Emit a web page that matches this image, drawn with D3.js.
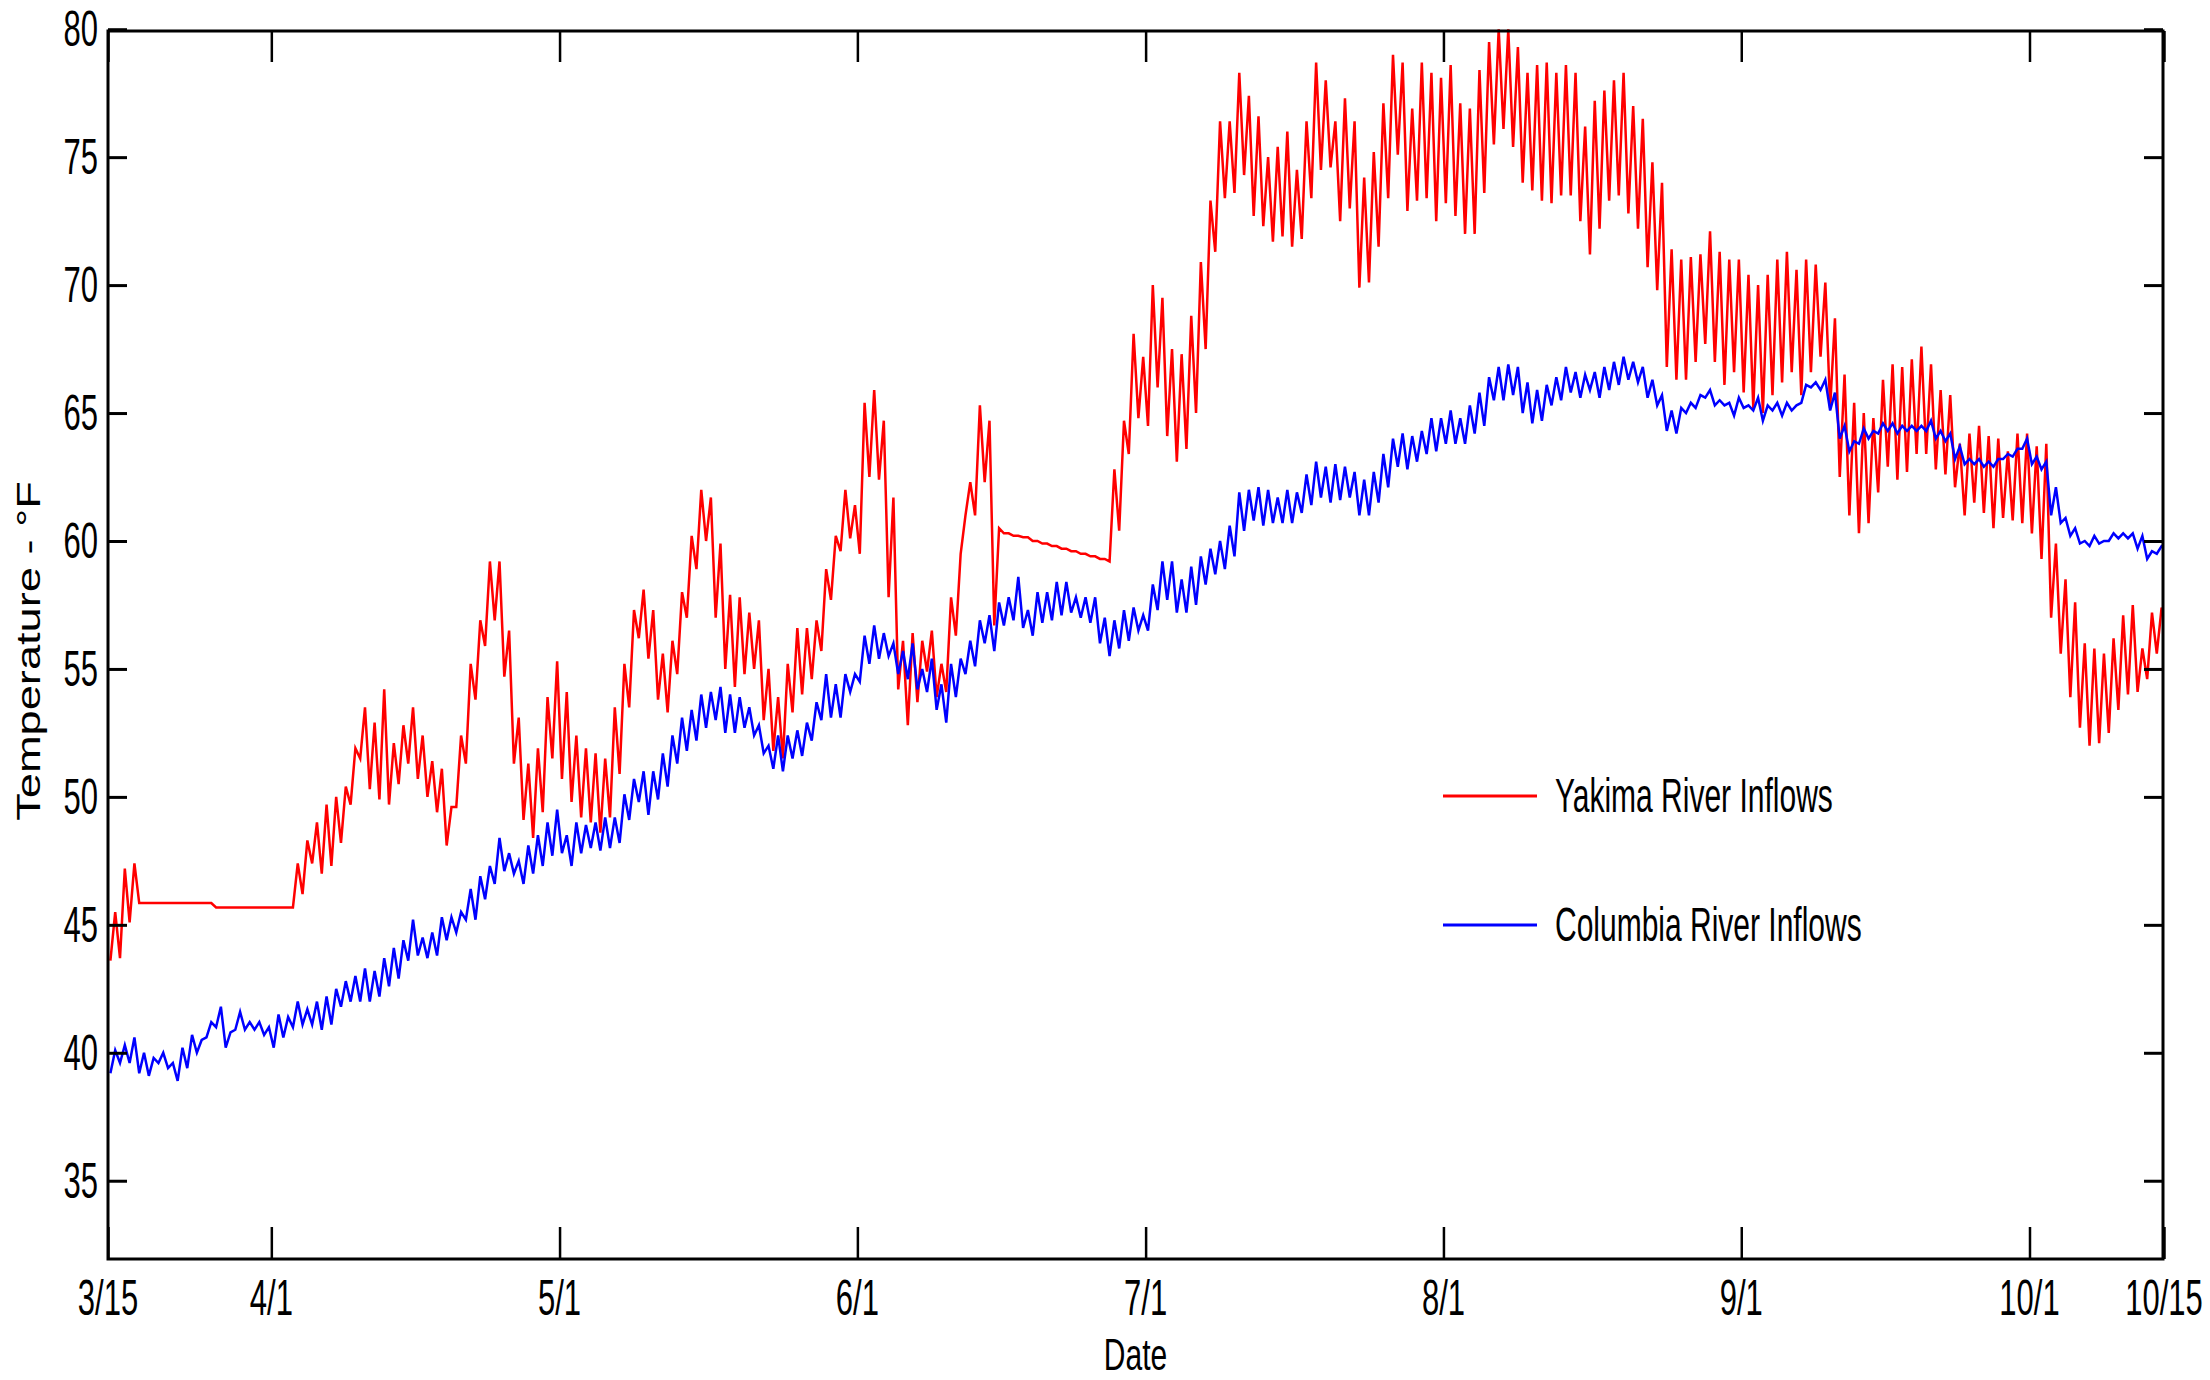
<!DOCTYPE html>
<html>
<head>
<meta charset="utf-8">
<script src="https://cdn.jsdelivr.net/npm/d3@7"></script>
<style>
  html, body { margin: 0; padding: 0; background: #fff; }
  svg { display: block; font-family: "Liberation Sans", Arial, sans-serif; }
</style>
</head>
<body>
<div id="chart-container"></div>
<script>
(function() {
  'use strict';

// daily low / high, one entry per day from 3/15 (day 0) to 10/15 (day 214)
const yakimaLow = [
  43.6, 43.7, 45.1, 45.85, 45.85, 45.85, 45.85, 45.85, 45.85, 45.85, 45.85,
  45.68, 45.68, 45.68, 45.68, 45.68, 45.68, 45.68, 45.68, 45.68,
  46.2, 47.4, 47.0, 47.3, 48.2, 49.7, 51.5, 50.3, 49.9, 49.7,
  50.5, 51.3, 50.7, 50.0, 49.4, 48.1, 49.6, 51.3, 53.8, 55.9,
  56.9, 54.7, 51.3, 49.1, 48.4, 49.4, 51.5, 50.7, 49.8, 49.2,
  49.0, 48.6, 49.2, 50.9, 53.5, 56.2, 55.4, 53.8, 53.3, 54.8,
  57.0, 58.9, 60.0, 57.0, 55.0, 54.3, 54.8, 55.0, 53.0, 51.8,
  51.5, 53.3, 54.0, 54.6, 55.7, 57.7, 59.6, 60.1, 59.5, 62.5,
  62.4, 57.8, 54.2, 52.8, 53.7, 54.9, 53.9, 54.1, 56.3, 61.0,
  61.0, 62.3, 56.7, 60.3, 60.2, 60.15, 60.0, 59.9, 59.8, 59.7,
  59.6, 59.5, 59.4, 59.3, 59.2, 60.4, 63.4, 64.8, 64.5, 66.0,
  64.1, 63.1, 63.6, 65.0, 67.5, 71.3, 73.4, 73.6, 74.3, 72.7,
  72.3, 71.7, 71.9, 71.5, 71.8, 73.4, 74.5, 74.6, 72.5, 73.0,
  69.9, 70.1, 71.5, 73.4, 75.1, 72.9, 73.3, 73.4, 72.5, 73.2,
  72.7, 72.0, 72.0, 73.6, 75.5, 76.1, 75.4, 74.0, 73.7, 73.3,
  73.2, 73.5, 73.5, 72.5, 71.2, 72.2, 73.3, 73.5, 72.8, 72.2,
  70.7, 69.8, 66.8, 66.3, 66.3, 67.0, 67.7, 67.0, 66.1, 66.6,
  65.8, 65.2, 65.0, 65.7, 66.2, 66.6, 65.7, 66.6, 67.2, 65.2,
  62.5, 61.0, 60.3, 60.7, 61.9, 62.9, 62.4, 62.7, 63.4, 63.4,
  62.8, 62.6, 62.1, 61.0, 61.5, 61.1, 60.5, 60.9, 60.8, 60.7,
  60.3, 59.3, 57.0, 55.6, 53.9, 52.7, 52.0, 52.1, 52.5, 53.4,
  54.0, 54.1, 54.6, 55.6, 56.8
];
const yakimaHigh = [
  45.5, 47.2, 47.4, 45.85, 45.85, 45.85, 45.85, 45.85, 45.85, 45.85, 45.85,
  45.68, 45.68, 45.68, 45.68, 45.68, 45.68, 45.68, 45.68, 47.4,
  48.3, 49.0, 49.7, 50.0, 50.4, 51.9, 53.5, 52.9, 54.2, 52.1,
  52.8, 53.5, 52.4, 51.4, 51.1, 49.6, 52.4, 55.2, 56.9, 59.2,
  59.2, 56.5, 53.1, 51.3, 51.9, 53.9, 55.3, 54.1, 52.4, 51.9,
  51.7, 51.5, 53.5, 55.2, 57.3, 58.1, 57.3, 55.6, 56.1, 58.0,
  60.2, 62.0, 61.7, 59.9, 57.9, 57.8, 57.2, 56.9, 55.0, 53.9,
  55.2, 56.6, 56.6, 56.9, 58.9, 60.2, 62.0, 61.4, 65.4, 65.9,
  64.7, 61.7, 56.1, 56.4, 56.1, 56.5, 55.2, 57.8, 59.5, 62.3,
  65.3, 64.7, 60.5, 60.3, 60.2, 60.15, 60.0, 59.9, 59.8, 59.7,
  59.6, 59.5, 59.4, 59.3, 62.8, 64.7, 68.1, 67.2, 70.0, 69.5,
  67.5, 67.3, 68.8, 70.9, 73.3, 76.4, 76.4, 78.3, 77.4, 76.6,
  75.0, 75.4, 76.0, 74.5, 76.4, 78.7, 78.0, 76.4, 77.3, 76.4,
  74.2, 75.2, 77.1, 79.0, 78.7, 76.9, 78.7, 78.3, 78.1, 78.6,
  77.1, 76.9, 78.4, 79.5, 80.0, 80.0, 79.3, 78.3, 78.6, 78.7,
  78.3, 78.6, 78.3, 76.2, 77.2, 77.6, 78.0, 78.3, 77.0, 76.5,
  74.8, 74.0, 71.4, 71.0, 71.1, 71.2, 72.1, 71.3, 71.0, 71.0,
  70.4, 70.0, 70.4, 71.0, 71.3, 70.6, 71.0, 70.8, 70.1, 68.7,
  66.5, 65.4, 65.0, 64.8, 66.3, 66.9, 66.8, 67.1, 67.6, 66.9,
  65.9, 65.7, 63.8, 64.2, 64.5, 64.1, 64.0, 63.5, 64.2, 64.2,
  63.7, 63.8, 59.9, 58.5, 57.6, 56.0, 55.8, 55.6, 56.2, 57.1,
  57.5, 55.8, 57.2, 57.4, 56.8
];
const columbiaLow = [
  39.2, 39.6, 39.6, 39.2, 39.1, 39.6, 39.4, 38.9, 39.4, 40.0,
  40.6, 41.0, 40.2, 40.9, 40.9, 40.9, 40.7, 40.2, 40.6, 41.0,
  41.1, 41.1, 40.9, 41.1, 41.8, 42.0, 42.0, 42.0, 42.2, 42.6,
  42.9, 43.6, 43.8, 43.7, 43.8, 44.4, 44.7, 45.2, 45.2, 46.0,
  46.6, 47.1, 47.0, 46.6, 47.0, 47.3, 47.7, 47.8, 47.3, 47.8,
  48.0, 47.9, 48.0, 48.2, 49.1, 49.8, 49.3, 49.9, 50.4, 51.3,
  51.8, 52.2, 52.7, 53.0, 52.5, 52.5, 52.7, 52.4, 51.7, 51.1,
  51.0, 51.5, 51.6, 52.2, 53.0, 53.1, 53.1, 54.1, 54.5, 55.2,
  55.4, 55.5, 54.8, 54.6, 54.2, 54.1, 53.4, 52.9, 53.9, 54.8,
  55.1, 56.0, 55.7, 56.7, 56.9, 56.6, 56.3, 56.8, 56.9, 57.1,
  57.2, 57.0, 56.8, 56.0, 55.5, 55.8, 56.1, 56.5, 56.5, 57.3,
  57.7, 57.2, 57.2, 57.5, 58.3, 58.7, 58.9, 59.4, 60.4, 60.8,
  60.6, 60.7, 60.7, 60.7, 61.1, 61.4, 61.7, 61.5, 61.6, 61.7,
  61.0, 61.0, 61.5, 62.1, 62.9, 62.8, 63.1, 63.4, 63.5, 63.8,
  63.8, 63.8, 64.2, 64.5, 65.5, 65.5, 65.7, 65.0, 64.6, 64.7,
  65.3, 65.5, 65.8, 65.6, 65.9, 65.6, 65.9, 66.1, 66.3, 66.2,
  65.6, 65.3, 64.3, 64.2, 65.0, 65.2, 65.6, 65.3, 65.3, 64.9,
  65.2, 65.1, 64.7, 65.1, 64.9, 65.1, 65.4, 66.0, 65.9, 65.1,
  64.0, 63.5, 63.8, 64.0, 64.2, 64.3, 64.2, 64.3, 64.3, 64.3,
  64.0, 63.9, 63.2, 63.0, 63.0, 62.9, 62.9, 63.2, 63.3, 63.6,
  63.0, 62.8, 61.0, 60.7, 60.2, 59.9, 59.8, 59.9, 60.0, 60.1,
  60.1, 59.7, 59.3, 59.5, 59.7
];
const columbiaHigh = [
  40.1, 40.3, 40.6, 40.0, 39.8, 40.0, 39.6, 40.2, 40.7, 40.5,
  41.2, 41.8, 40.8, 41.6, 41.2, 41.2, 41.0, 41.5, 41.4, 42.0,
  41.7, 42.0, 42.2, 42.5, 42.8, 43.0, 43.3, 43.2, 43.7, 44.1,
  44.4, 45.2, 44.5, 44.7, 45.3, 45.3, 45.5, 46.4, 46.9, 47.3,
  48.4, 47.8, 47.5, 48.1, 48.5, 49.0, 49.5, 48.5, 49.0, 48.9,
  49.0, 49.2, 49.2, 50.1, 50.7, 51.0, 51.0, 51.7, 52.4, 53.1,
  53.4, 54.0, 54.1, 54.3, 54.0, 53.9, 53.5, 52.8, 52.0, 52.4,
  52.4, 52.6, 52.9, 53.7, 54.8, 54.4, 54.8, 54.8, 56.3, 56.7,
  56.4, 56.0, 55.7, 56.0, 55.0, 55.4, 54.4, 55.2, 55.4, 56.1,
  56.9, 57.1, 57.6, 57.8, 58.6, 57.3, 58.0, 58.0, 58.4, 58.4,
  57.8, 57.8, 57.8, 57.0, 56.9, 57.3, 57.4, 57.1, 58.3, 59.2,
  59.2, 58.5, 59.0, 59.4, 59.7, 60.0, 60.6, 61.9, 62.0, 62.1,
  62.0, 61.7, 62.0, 61.9, 62.6, 63.1, 62.9, 63.0, 62.9, 62.7,
  62.4, 62.7, 63.4, 64.0, 64.2, 64.1, 64.3, 64.8, 64.8, 65.1,
  64.8, 65.3, 65.8, 66.4, 66.8, 66.9, 66.8, 66.2, 65.9, 66.1,
  66.4, 66.8, 66.6, 66.5, 66.6, 66.8, 67.0, 67.2, 67.0, 66.8,
  66.3, 65.7, 65.1, 65.2, 65.4, 65.7, 65.9, 65.5, 65.4, 65.6,
  65.3, 65.6, 65.3, 65.4, 65.4, 65.3, 66.1, 66.2, 66.3, 65.8,
  64.5, 63.9, 64.4, 64.3, 64.6, 64.6, 64.5, 64.5, 64.5, 64.7,
  64.3, 64.2, 63.7, 63.2, 63.2, 63.1, 63.2, 63.4, 63.6, 64.0,
  63.3, 63.1, 62.1, 60.9, 60.5, 60.0, 60.2, 60.0, 60.3, 60.3,
  60.3, 60.2, 59.6, 59.8, 59.9
];

const xTickLabels = ['3/15', '4/1', '5/1', '6/1', '7/1', '8/1', '9/1', '10/1', '10/15'];
const yTicks = [35, 40, 45, 50, 55, 60, 65, 70, 75, 80];
const seriesNames = ['Yakima River Inflows', 'Columbia River Inflows'];
const seriesColors = ['#ff0000', '#0000ff'];

const chart = '#chart-container';

const W = 2210;
const H = 1380;
const LEFT = 108;
const RIGHT = 2163;
const TOP = 31;
const BOTTOM = 1259;
const YEAR = 2010;

const START = new Date(Date.UTC(YEAR, 2, 15));
const END = new Date(Date.UTC(YEAR, 9, 15));

generateChart();

function parseTick(s) {
  const p = s.split('/');
  return new Date(Date.UTC(YEAR, +p[0] - 1, +p[1]));
}

// low in the morning, high in the afternoon of each day
function buildPoints(low, high) {
  const pts = [];
  low.forEach((lo, i) => {
    pts.push({ t: d3.utcHour.offset(START, i * 24 + 6), v: lo });
    pts.push({ t: d3.utcHour.offset(START, i * 24 + 18), v: high[i] });
  });
  return pts;
}

function generateChart() {
  const xScale = d3.scaleUtc()
                  .domain([START, END])
                  .range([LEFT, RIGHT + 1]);

  const yScale = d3.scaleLinear()
                  .domain([32, 80])
                  .range([1257.5, 29.2]);

  const svg = d3.select(chart)
                .append('svg')
                  .attr('width', W)
                  .attr('height', H);

  svg.append('rect')
    .attr('width', W)
    .attr('height', H)
    .attr('fill', '#fff');

  svg.append('clipPath')
    .attr('id', 'plot-clip')
    .append('rect')
      .attr('x', LEFT)
      .attr('y', TOP - 2)
      .attr('width', RIGHT - LEFT)
      .attr('height', BOTTOM - TOP + 2);

  const line = d3.line()
                 .x((d) => xScale(d.t))
                 .y((d) => yScale(d.v));

  const series = [
    buildPoints(yakimaLow, yakimaHigh),
    buildPoints(columbiaLow, columbiaHigh)
  ];

  svg.append('g')
    .attr('clip-path', 'url(#plot-clip)')
    .selectAll('path')
    .data(series)
    .enter()
    .append('path')
      .attr('d', line)
      .attr('fill', 'none')
      .attr('stroke', (d, i) => seriesColors[i])
      .attr('stroke-width', 2.5)
      .attr('stroke-linejoin', 'miter');

  // ticks, pointing inward on all four sides
  const tickDates = xTickLabels.map(parseTick);

  svg.append('g')
    .attr('transform', `translate(0, ${BOTTOM})`)
    .call(d3.axisBottom(xScale).tickValues(tickDates).tickSize(-32).tickSizeOuter(0).tickFormat(''))
    .call((g) => g.select('.domain').remove())
    .call((g) => g.selectAll('line').attr('stroke-width', 2.5));

  svg.append('g')
    .attr('transform', `translate(0, ${TOP})`)
    .call(d3.axisTop(xScale).tickValues(tickDates).tickSize(-31).tickSizeOuter(0).tickFormat(''))
    .call((g) => g.select('.domain').remove())
    .call((g) => g.selectAll('line').attr('stroke-width', 2.5));

  svg.append('g')
    .attr('transform', `translate(${LEFT}, 0)`)
    .call(d3.axisLeft(yScale).tickValues(yTicks).tickSize(-19).tickSizeOuter(0).tickFormat(''))
    .call((g) => g.select('.domain').remove())
    .call((g) => g.selectAll('line').attr('stroke-width', 3));

  svg.append('g')
    .attr('transform', `translate(${RIGHT}, 0)`)
    .call(d3.axisRight(yScale).tickValues(yTicks).tickSize(-19).tickSizeOuter(0).tickFormat(''))
    .call((g) => g.select('.domain').remove())
    .call((g) => g.selectAll('line').attr('stroke-width', 3));

  svg.append('rect')
    .attr('x', LEFT)
    .attr('y', TOP)
    .attr('width', RIGHT - LEFT)
    .attr('height', BOTTOM - TOP)
    .attr('fill', 'none')
    .attr('stroke', '#000')
    .attr('stroke-width', 3);

  // tick labels (the picture is stretched vertically)
  svg.selectAll('.x-label')
    .data(tickDates)
    .enter()
    .append('text')
      .attr('class', 'x-label')
      .attr('transform', (d) => `translate(${xScale(d)}, 1315) scale(1, 1.6)`)
      .attr('text-anchor', 'middle')
      .attr('font-size', 31)
      .text((d, i) => xTickLabels[i]);

  svg.selectAll('.y-label')
    .data(yTicks)
    .enter()
    .append('text')
      .attr('class', 'y-label')
      .attr('transform', (d) => `translate(98, ${yScale(d) + 17}) scale(1, 1.6)`)
      .attr('text-anchor', 'end')
      .attr('font-size', 31)
      .text((d) => d);

  svg.append('text')
    .attr('transform', `translate(${(LEFT + RIGHT) / 2}, 1370) scale(1, 1.5)`)
    .attr('text-anchor', 'middle')
    .attr('font-size', 30)
    .text('Date');

  svg.append('text')
    .attr('transform', 'translate(40, 651) rotate(-90) scale(1.35, 1)')
    .attr('text-anchor', 'middle')
    .attr('font-size', 33.5)
    .text('Temperature - \u00b0F');

  // legend
  const legend = svg.append('g');
  const legendY = [796, 925];

  legend.selectAll('line')
    .data(seriesNames)
    .enter()
    .append('line')
      .attr('x1', 1443)
      .attr('x2', 1537)
      .attr('y1', (d, i) => legendY[i])
      .attr('y2', (d, i) => legendY[i])
      .attr('stroke', (d, i) => seriesColors[i])
      .attr('stroke-width', 3);

  legend.selectAll('text')
    .data(seriesNames)
    .enter()
    .append('text')
      .attr('transform', (d, i) => `translate(1555, ${legendY[i] + 16}) scale(1, 1.6)`)
      .attr('font-size', 30)
      .text((d) => d);
}

})()
</script>
</body>
</html>
